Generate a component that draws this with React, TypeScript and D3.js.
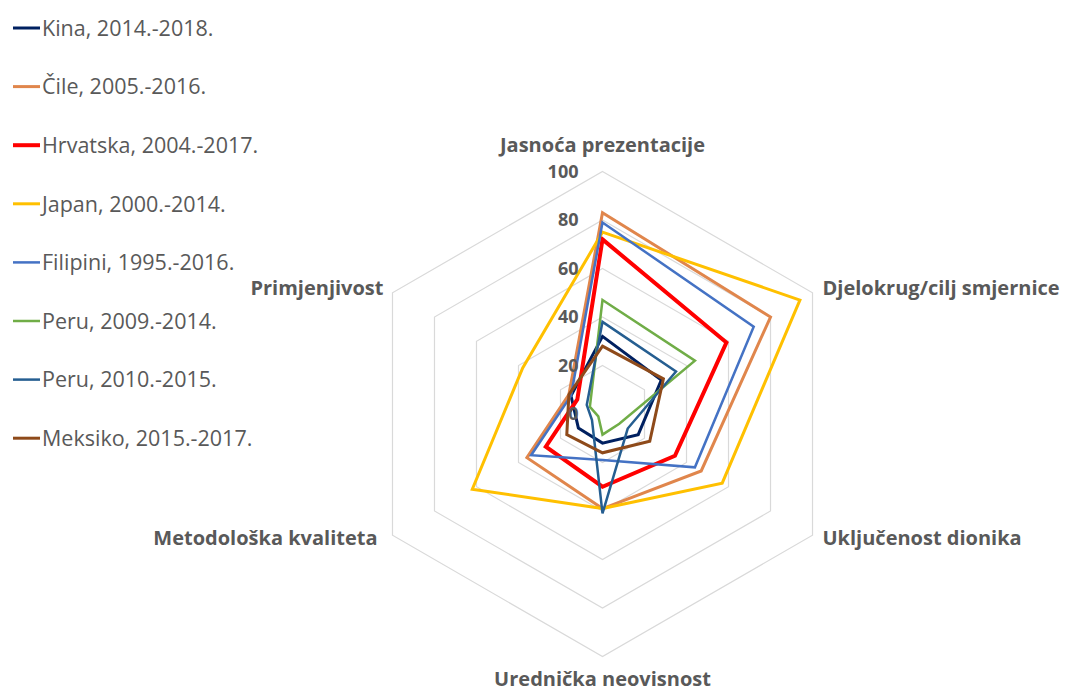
import React, { useEffect, useRef } from "react";
import * as d3 from "d3";

const categories = [
  "Jasnoća prezentacije",
  "Djelokrug/cilj smjernice",
  "Uključenost dionika",
  "Urednička neovisnost",
  "Metodološka kvaliteta",
  "Primjenjivost",
];

const seriesNames = [
  "Kina, 2014.-2018.",
  "Čile, 2005.-2016.",
  "Hrvatska, 2004.-2017.",
  "Japan, 2000.-2014.",
  "Filipini, 1995.-2016.",
  "Peru, 2009.-2014.",
  "Peru, 2010.-2015.",
  "Meksiko, 2015.-2017.",
];

const kina = [32, 28, 17, 12, 11.5, 15];
const cile = [83, 80, 47, 39, 36, 16];
const hrvatska = [72, 59, 34.5, 30, 27, 12];
const japan = [75, 94, 57, 39, 62, 38];
const filipini = [79, 72, 44, 19, 34, 15];
const peru2009 = [47, 44, 8, 8.5, 2, 6];
const peru2010 = [38, 35, 12, 41, 5, 7.5];
const meksiko = [28, 29, 22.5, 16, 17, 16];

const seriesValues = [kina, cile, hrvatska, japan, filipini, peru2009, peru2010, meksiko];
const colors = ["#002060", "#E0864C", "#FF0000", "#FFC000", "#4472C4", "#70AD47", "#255E91", "#8E4A1A"];
const widths = [3, 3, 4, 3, 2.5, 2.5, 2.5, 3];

const ticks = [0, 20, 40, 60, 80, 100];

export default function App() {
  const ref = useRef<SVGSVGElement>(null);

  useEffect(() => {
    const svg = d3.select(ref.current);
    svg.selectAll("*").remove();

    const cx = 602.5, cy = 414, R = 242.5;
    const r = d3.scaleLinear().domain([0, 100]).range([0, R]);
    const angle = d3.scalePoint<number>().domain(d3.range(categories.length + 1)).range([0, 2 * Math.PI]);
    const g = svg.append("g").attr("transform", `translate(${cx},${cy})`);

    const radial = d3.lineRadial<number>()
      .angle((_, i) => angle(i)!)
      .radius((d) => r(d))
      .curve(d3.curveLinearClosed);

    // grid
    ticks.slice(1).forEach((t) => {
      g.append("path")
        .attr("d", radial(categories.map(() => t)))
        .attr("fill", "none")
        .attr("stroke", "#D9D9D9")
        .attr("stroke-width", 1.2);
    });

    // series
    seriesValues.forEach((vals, i) => {
      g.append("path")
        .attr("d", radial(vals))
        .attr("fill", "none")
        .attr("stroke", colors[i])
        .attr("stroke-width", widths[i])
        .attr("stroke-linejoin", "miter");
    });

    // tick labels
    g.selectAll("text.tick").data(ticks).join("text")
      .attr("class", "tick")
      .attr("x", -24)
      .attr("y", (d) => -r(d))
      .attr("dy", "0.35em")
      .attr("text-anchor", "end")
      .attr("font-family", "Open Sans")
      .attr("font-weight", "bold")
      .attr("font-size", 18)
      .attr("fill", "#595959")
      .text((d) => d);

    // axis labels
    categories.forEach((c, i) => {
      const a = angle(i)!;
      const sx = Math.sin(a), sy = -Math.cos(a);
      const px = sx * R, py = sy * R;
      let anchor = "middle", x = px, y = py;
      if (Math.abs(sx) < 0.01) {
        y = sy < 0 ? py - 20 : py + 29;
      } else {
        anchor = sx > 0 ? "start" : "end";
        x = px + (sx > 0 ? 10 : i === 4 ? -15 : -9);
        y = py + (sy < 0 ? 2 : 10);
      }
      g.append("text")
        .attr("x", x)
        .attr("y", y)
        .attr("text-anchor", anchor)
        .attr("font-family", "Open Sans")
        .attr("font-weight", "bold")
        .attr("font-size", 20)
        .attr("fill", "#595959")
        .text(c);
    });

    // legend
    const leg = svg.append("g").attr("transform", "translate(13,28)");
    const ly = d3.scaleLinear().domain([0, 1]).range([0, 58.6]);
    seriesNames.forEach((n, i) => {
      leg.append("line")
        .attr("x1", 0).attr("x2", 27)
        .attr("y1", ly(i)).attr("y2", ly(i))
        .attr("stroke", colors[i])
        .attr("stroke-width", widths[i]);
      leg.append("text")
        .attr("x", 29)
        .attr("y", ly(i))
        .attr("dy", "0.36em")
        .attr("font-family", "Open Sans")
        .attr("font-size", 21.5)
        .attr("fill", "#595959")
        .text(n);
    });
  }, []);

  return (
    <svg ref={ref} width={1068} height={691}
      style={{ position: "absolute", left: 0, top: 0, background: "#fff" }} />
  );
}
